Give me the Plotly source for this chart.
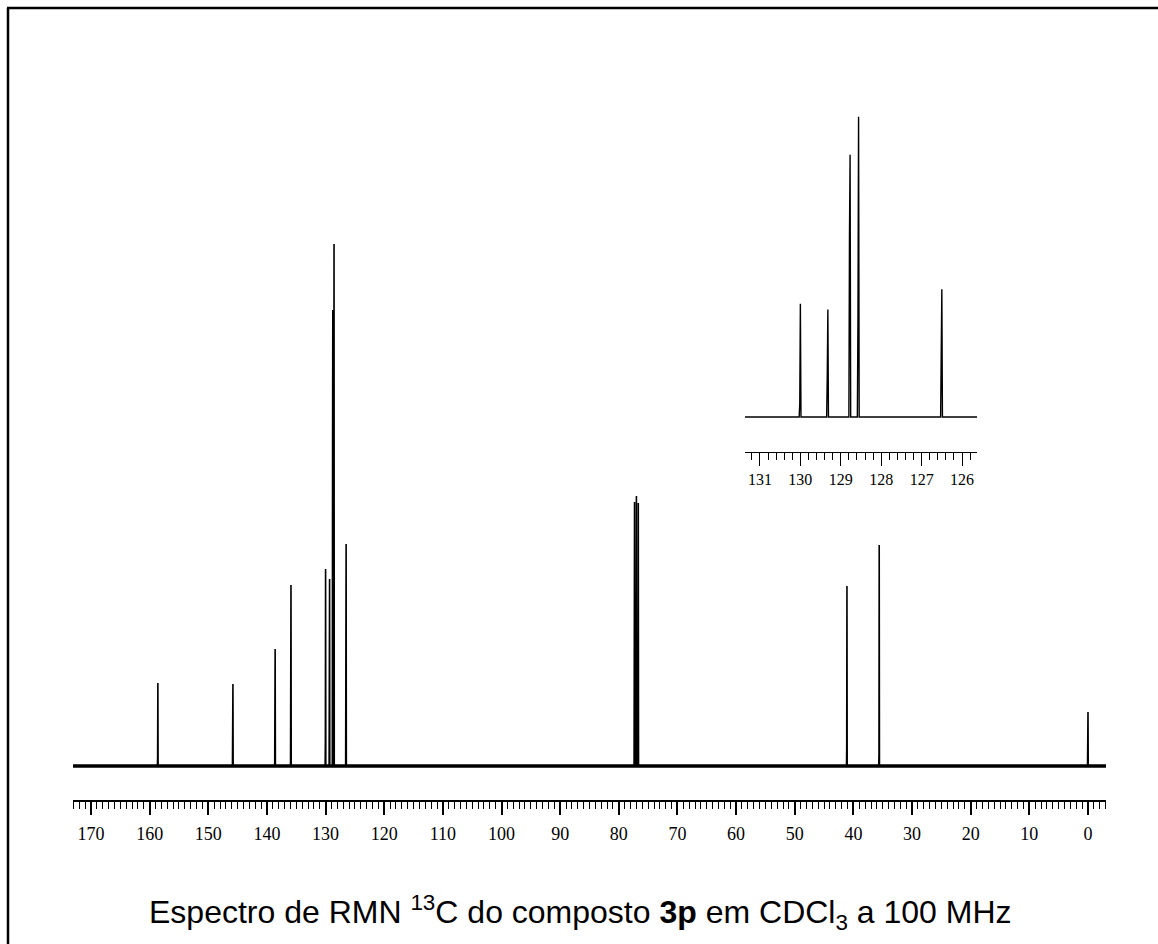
import plotly.graph_objects as go

# 13C NMR peak list: chemical shift (ppm), peak height, and height of the
# partially resolved point on the high-ppm flank of each line (0 = none)
peak_ppm = [158.6, 145.8, 138.6, 135.9, 130.0, 129.32, 128.77, 128.56, 126.5,
            77.32, 77.0, 76.68, 41.1, 35.6, 0.0]
peak_height = [83, 82, 117, 181, 197, 187, 456, 522, 222,
               264, 270, 263, 180, 221, 54]
flank_height = [9, 0, 0, 0, 24, 70, 317, 177, 111,
                59, 0, 14, 18, 12, 0]

main_range = [173.07, -3.07]
inset_range = [131.37, 125.63]

W, H = 1158, 944


def build_trace(ppm, hgt, flank, lo, hi, half=0.04):
    """Stick spectrum: baseline segments joined by narrow peaks."""
    xs, ys = [hi], [0]
    for p, h, f in sorted(zip(ppm, hgt, flank), key=lambda t: -t[0]):
        if p > hi or p < lo:
            continue
        xs += [p + 2 * half]
        ys += [0]
        if f:
            xs += [p + half]
            ys += [f]
        xs += [p, p - half]
        ys += [h, 0]
    xs.append(lo)
    ys.append(0)
    return xs, ys


mx, my = build_trace(peak_ppm, peak_height, flank_height,
                     main_range[1], main_range[0], half=0.04)
ix, iy = build_trace(peak_ppm, peak_height, flank_height,
                     inset_range[1], inset_range[0], half=0.015)

fig = go.Figure()

# thick baseline of the full spectrum
fig.add_trace(go.Scatter(x=main_range, y=[0, 0], mode="lines",
                         line=dict(color="black", width=3.5),
                         xaxis="x", yaxis="y", hoverinfo="skip"))
fig.add_trace(go.Scatter(x=mx, y=my, mode="lines",
                         line=dict(color="black", width=1.6),
                         xaxis="x", yaxis="y"))
# expansion of the aromatic region
fig.add_trace(go.Scatter(x=ix, y=iy, mode="lines",
                         line=dict(color="black", width=1.4),
                         xaxis="x2", yaxis="y2"))


def px_x(v):
    return v / W


def px_y(v):
    return 1 - v / H


tick_font = dict(family="Liberation Serif", size=18, color="black")

fig.update_layout(
    width=W, height=H,
    margin=dict(l=0, r=0, t=0, b=0),
    paper_bgcolor="white", plot_bgcolor="white",
    showlegend=False,
    xaxis=dict(domain=[px_x(73), px_x(1106)], range=main_range,
               anchor="y", showline=True, linecolor="black", linewidth=1.5,
               ticks="outside", ticklen=13, tickwidth=1.5, tickcolor="black",
               tick0=0, dtick=10, tickfont=tick_font, ticklabelstandoff=4,
               minor=dict(dtick=1, ticks="outside", ticklen=7, tickwidth=1,
                          tickcolor="black"),
               showgrid=False, zeroline=False),
    yaxis=dict(domain=[px_y(800), px_y(200)], range=[-34, 566],
               visible=False, anchor="x"),
    xaxis2=dict(domain=[px_x(745), px_x(977)], range=inset_range,
                anchor="y2", showline=True, linecolor="black", linewidth=1.2,
                ticks="outside", ticklen=13, tickwidth=1.2, tickcolor="black",
                tick0=0, dtick=1,
                tickfont=dict(family="Liberation Serif", size=16, color="black"),
                minor=dict(dtick=0.2, ticks="outside", ticklen=7, tickwidth=1,
                           tickcolor="black"),
                showgrid=False, zeroline=False),
    yaxis2=dict(domain=[px_y(452), px_y(100)], range=[-60.9, 551.3],
                visible=False, anchor="x2"),
    shapes=[
        dict(type="line", xref="paper", yref="paper",
             x0=px_x(7), x1=1, y0=px_y(8), y1=px_y(8),
             line=dict(color="black", width=2.5)),
        dict(type="line", xref="paper", yref="paper",
             x0=px_x(8), x1=px_x(8), y0=px_y(8), y1=0,
             line=dict(color="black", width=2.5)),
    ],
    annotations=[
        dict(xref="paper", yref="paper", x=px_x(580), y=px_y(912),
             xanchor="center", yanchor="middle", showarrow=False,
             text="Espectro de RMN <sup>13</sup>C do composto <b>3p</b> "
                  "em CDCl<sub>3</sub> a 100 MHz",
             font=dict(family="Liberation Sans", size=32, color="black")),
    ],
)

fig.write_html("out.html")
